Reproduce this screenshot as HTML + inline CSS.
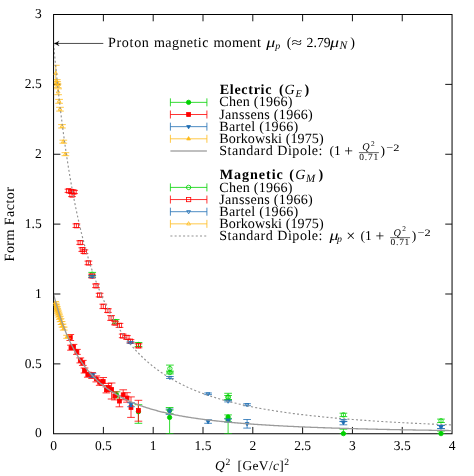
<!DOCTYPE html>
<html><head><meta charset="utf-8"><title>Proton form factors</title>
<style>html,body{margin:0;padding:0;background:#fff;overflow:hidden;}svg{display:block;will-change:transform;transform:translateZ(0);}</style></head>
<body>
<svg width="474" height="476" viewBox="0 0 474 476" font-family="'Liberation Serif', serif" font-size="13.5" fill="#000" text-rendering="geometricPrecision">
<rect width="474" height="476" fill="#fff"/>
<defs><clipPath id="cp"><rect x="53.97" y="14.5" width="398.08000000000004" height="419.25"/></clipPath></defs>
<path d="M103.38 433.75v-6.8M103.38 14.5v6.8M153.19 433.75v-6.8M153.19 14.5v6.8M203.00 433.75v-6.8M203.00 14.5v6.8M252.81 433.75v-6.8M252.81 14.5v6.8M302.62 433.75v-6.8M302.62 14.5v6.8M352.43 433.75v-6.8M352.43 14.5v6.8M402.24 433.75v-6.8M402.24 14.5v6.8M53.57 363.88h6.8M452.05 363.88h-6.8M53.57 294.00h6.8M452.05 294.00h-6.8M53.57 224.12h6.8M452.05 224.12h-6.8M53.57 154.25h6.8M452.05 154.25h-6.8M53.57 84.38h6.8M452.05 84.38h-6.8" stroke="#141414" stroke-width="1" fill="none"/>
<rect x="53.57" y="14.5" width="398.48" height="419.25" fill="none" stroke="#000" stroke-width="1"/>
<g clip-path="url(#cp)"><path d="M116.50 391.80V397.80M112.65 391.80H120.35M112.65 397.80H120.35" stroke="#00d200" stroke-width="0.8" fill="none"/><path d="M138.40 404.70V423.30M134.55 404.70H142.25M134.55 423.30H142.25" stroke="#00d200" stroke-width="0.8" fill="none"/><path d="M169.60 407.50V413.70M165.75 407.50H173.45M165.75 413.70H173.45" stroke="#00d200" stroke-width="0.8" fill="none"/><path d="M169.60 410.00V433.60M165.75 410.00H173.45M165.75 433.60H173.45" stroke="#00d200" stroke-width="0.8" fill="none"/><path d="M228.10 414.90V433.60M224.25 414.90H231.95M224.25 433.60H231.95" stroke="#00d200" stroke-width="0.8" fill="none"/><path d="M228.10 418.40V421.80M224.25 418.40H231.95M224.25 421.80H231.95" stroke="#00d200" stroke-width="0.8" fill="none"/><path d="M343.40 429.20V433.60M339.55 429.20H347.25M339.55 433.60H347.25" stroke="#00d200" stroke-width="0.8" fill="none"/><path d="M441.00 431.10V433.60M437.15 431.10H444.85M437.15 433.60H444.85" stroke="#00d200" stroke-width="0.8" fill="none"/></g>
<g><circle cx="116.50" cy="394.80" r="2.2" fill="#00d200" stroke="#00d200" stroke-width="0.8"/><circle cx="138.40" cy="411.70" r="2.2" fill="#00d200" stroke="#00d200" stroke-width="0.8"/><circle cx="169.60" cy="410.60" r="2.2" fill="#00d200" stroke="#00d200" stroke-width="0.8"/><circle cx="169.60" cy="417.40" r="2.2" fill="#00d200" stroke="#00d200" stroke-width="0.8"/><circle cx="228.10" cy="417.00" r="2.2" fill="#00d200" stroke="#00d200" stroke-width="0.8"/><circle cx="228.10" cy="420.10" r="2.2" fill="#00d200" stroke="#00d200" stroke-width="0.8"/><circle cx="343.40" cy="433.60" r="2.2" fill="#00d200" stroke="#00d200" stroke-width="0.8"/><circle cx="441.00" cy="433.60" r="2.2" fill="#00d200" stroke="#00d200" stroke-width="0.8"/></g>
<g clip-path="url(#cp)"><path d="M70.30 334.50V340.50M66.45 334.50H74.15M66.45 340.50H74.15" stroke="#ff0000" stroke-width="0.8" fill="none"/><path d="M71.00 345.20V350.20M67.15 345.20H74.85M67.15 350.20H74.85" stroke="#ff0000" stroke-width="0.8" fill="none"/><path d="M73.50 344.40V349.40M69.65 344.40H77.35M69.65 349.40H77.35" stroke="#ff0000" stroke-width="0.8" fill="none"/><path d="M76.90 349.40V354.40M73.05 349.40H80.75M73.05 354.40H80.75" stroke="#ff0000" stroke-width="0.8" fill="none"/><path d="M80.30 357.90V362.90M76.45 357.90H84.15M76.45 362.90H84.15" stroke="#ff0000" stroke-width="0.8" fill="none"/><path d="M82.80 360.40V365.40M78.95 360.40H86.65M78.95 365.40H86.65" stroke="#ff0000" stroke-width="0.8" fill="none"/><path d="M84.50 368.00V373.00M80.65 368.00H88.35M80.65 373.00H88.35" stroke="#ff0000" stroke-width="0.8" fill="none"/><path d="M87.80 372.20V377.20M83.95 372.20H91.65M83.95 377.20H91.65" stroke="#ff0000" stroke-width="0.8" fill="none"/><path d="M92.10 372.50V378.50M88.25 372.50H95.95M88.25 378.50H95.95" stroke="#ff0000" stroke-width="0.8" fill="none"/><path d="M96.30 375.90V381.90M92.45 375.90H100.15M92.45 381.90H100.15" stroke="#ff0000" stroke-width="0.8" fill="none"/><path d="M99.70 379.30V385.30M95.85 379.30H103.55M95.85 385.30H103.55" stroke="#ff0000" stroke-width="0.8" fill="none"/><path d="M103.20 377.50V385.50M99.35 377.50H107.05M99.35 385.50H107.05" stroke="#ff0000" stroke-width="0.8" fill="none"/><path d="M106.40 386.90V392.90M102.55 386.90H110.25M102.55 392.90H110.25" stroke="#ff0000" stroke-width="0.8" fill="none"/><path d="M108.40 383.40V391.40M104.55 383.40H112.25M104.55 391.40H112.25" stroke="#ff0000" stroke-width="0.8" fill="none"/><path d="M111.60 383.00V399.00M107.75 383.00H115.45M107.75 399.00H115.45" stroke="#ff0000" stroke-width="0.8" fill="none"/><path d="M114.80 391.90V399.90M110.95 391.90H118.65M110.95 399.90H118.65" stroke="#ff0000" stroke-width="0.8" fill="none"/><path d="M119.40 395.90V406.80M115.55 395.90H123.25M115.55 406.80H123.25" stroke="#ff0000" stroke-width="0.8" fill="none"/><path d="M123.20 389.80V399.80M119.35 389.80H127.05M119.35 399.80H127.05" stroke="#ff0000" stroke-width="0.8" fill="none"/><path d="M127.00 392.70V402.20M123.15 392.70H130.85M123.15 402.20H130.85" stroke="#ff0000" stroke-width="0.8" fill="none"/><path d="M131.00 396.90V417.40M127.15 396.90H134.85M127.15 417.40H134.85" stroke="#ff0000" stroke-width="0.8" fill="none"/><path d="M138.40 400.30V421.20M134.55 400.30H142.25M134.55 421.20H142.25" stroke="#ff0000" stroke-width="0.8" fill="none"/></g>
<g><rect x="68.35" y="335.55" width="3.9" height="3.9" fill="#ff0000" stroke="#ff0000" stroke-width="0.8"/><rect x="69.05" y="345.75" width="3.9" height="3.9" fill="#ff0000" stroke="#ff0000" stroke-width="0.8"/><rect x="71.55" y="344.95" width="3.9" height="3.9" fill="#ff0000" stroke="#ff0000" stroke-width="0.8"/><rect x="74.95" y="349.95" width="3.9" height="3.9" fill="#ff0000" stroke="#ff0000" stroke-width="0.8"/><rect x="78.35" y="358.45" width="3.9" height="3.9" fill="#ff0000" stroke="#ff0000" stroke-width="0.8"/><rect x="80.85" y="360.95" width="3.9" height="3.9" fill="#ff0000" stroke="#ff0000" stroke-width="0.8"/><rect x="82.55" y="368.55" width="3.9" height="3.9" fill="#ff0000" stroke="#ff0000" stroke-width="0.8"/><rect x="85.85" y="372.75" width="3.9" height="3.9" fill="#ff0000" stroke="#ff0000" stroke-width="0.8"/><rect x="90.15" y="373.55" width="3.9" height="3.9" fill="#ff0000" stroke="#ff0000" stroke-width="0.8"/><rect x="94.35" y="376.95" width="3.9" height="3.9" fill="#ff0000" stroke="#ff0000" stroke-width="0.8"/><rect x="97.75" y="380.35" width="3.9" height="3.9" fill="#ff0000" stroke="#ff0000" stroke-width="0.8"/><rect x="101.25" y="379.55" width="3.9" height="3.9" fill="#ff0000" stroke="#ff0000" stroke-width="0.8"/><rect x="104.45" y="387.95" width="3.9" height="3.9" fill="#ff0000" stroke="#ff0000" stroke-width="0.8"/><rect x="106.45" y="385.45" width="3.9" height="3.9" fill="#ff0000" stroke="#ff0000" stroke-width="0.8"/><rect x="109.65" y="387.55" width="3.9" height="3.9" fill="#ff0000" stroke="#ff0000" stroke-width="0.8"/><rect x="112.85" y="393.95" width="3.9" height="3.9" fill="#ff0000" stroke="#ff0000" stroke-width="0.8"/><rect x="117.45" y="399.15" width="3.9" height="3.9" fill="#ff0000" stroke="#ff0000" stroke-width="0.8"/><rect x="121.25" y="392.85" width="3.9" height="3.9" fill="#ff0000" stroke="#ff0000" stroke-width="0.8"/><rect x="125.05" y="396.05" width="3.9" height="3.9" fill="#ff0000" stroke="#ff0000" stroke-width="0.8"/><rect x="129.05" y="405.55" width="3.9" height="3.9" fill="#ff0000" stroke="#ff0000" stroke-width="0.8"/><rect x="136.45" y="408.45" width="3.9" height="3.9" fill="#ff0000" stroke="#ff0000" stroke-width="0.8"/></g>
<g clip-path="url(#cp)"><path d="M92.50 373.30V377.30M88.65 373.30H96.35M88.65 377.30H96.35" stroke="#1f6fb4" stroke-width="0.8" fill="none"/><path d="M131.00 402.70V406.70M127.15 402.70H134.85M127.15 406.70H134.85" stroke="#1f6fb4" stroke-width="0.8" fill="none"/><path d="M169.60 409.00V414.40M165.75 409.00H173.45M165.75 414.40H173.45" stroke="#1f6fb4" stroke-width="0.8" fill="none"/><path d="M208.10 419.70V423.30M204.25 419.70H211.95M204.25 423.30H211.95" stroke="#1f6fb4" stroke-width="0.8" fill="none"/><path d="M228.10 419.00V422.00M224.25 419.00H231.95M224.25 422.00H231.95" stroke="#1f6fb4" stroke-width="0.8" fill="none"/><path d="M247.10 419.50V428.10M243.25 419.50H250.95M243.25 428.10H250.95" stroke="#1f6fb4" stroke-width="0.8" fill="none"/><path d="M343.40 421.60V424.80M339.55 421.60H347.25M339.55 424.80H347.25" stroke="#1f6fb4" stroke-width="0.8" fill="none"/><path d="M441.00 425.40V428.60M437.15 425.40H444.85M437.15 428.60H444.85" stroke="#1f6fb4" stroke-width="0.8" fill="none"/></g>
<g><polygon points="92.50,377.50 90.59,374.20 94.41,374.20" fill="#1f6fb4" stroke="#1f6fb4" stroke-width="0.8"/><polygon points="131.00,406.90 129.09,403.60 132.91,403.60" fill="#1f6fb4" stroke="#1f6fb4" stroke-width="0.8"/><polygon points="169.60,413.90 167.69,410.60 171.51,410.60" fill="#1f6fb4" stroke="#1f6fb4" stroke-width="0.8"/><polygon points="208.10,423.80 206.19,420.50 210.01,420.50" fill="#1f6fb4" stroke="#1f6fb4" stroke-width="0.8"/><polygon points="228.10,422.70 226.19,419.40 230.01,419.40" fill="#1f6fb4" stroke="#1f6fb4" stroke-width="0.8"/><polygon points="247.10,425.90 245.19,422.60 249.01,422.60" fill="#1f6fb4" stroke="#1f6fb4" stroke-width="0.8"/><polygon points="343.40,424.80 341.49,421.50 345.31,421.50" fill="#1f6fb4" stroke="#1f6fb4" stroke-width="0.8"/><polygon points="441.00,429.40 439.09,426.10 442.91,426.10" fill="#1f6fb4" stroke="#1f6fb4" stroke-width="0.8"/></g>
<g clip-path="url(#cp)"><path d="M55.26 301.50V304.50M51.41 301.50H59.11M51.41 304.50H59.11" stroke="#ffbb1a" stroke-width="0.8" fill="none"/><path d="M55.72 303.10V306.10M51.87 303.10H59.57M51.87 306.10H59.57" stroke="#ffbb1a" stroke-width="0.8" fill="none"/><path d="M56.20 304.80V307.80M52.35 304.80H60.05M52.35 307.80H60.05" stroke="#ffbb1a" stroke-width="0.8" fill="none"/><path d="M56.70 306.50V309.50M52.85 306.50H60.55M52.85 309.50H60.55" stroke="#ffbb1a" stroke-width="0.8" fill="none"/><path d="M57.24 308.30V311.30M53.39 308.30H61.09M53.39 311.30H61.09" stroke="#ffbb1a" stroke-width="0.8" fill="none"/><path d="M57.83 310.20V313.20M53.98 310.20H61.68M53.98 313.20H61.68" stroke="#ffbb1a" stroke-width="0.8" fill="none"/><path d="M58.42 312.10V315.10M54.57 312.10H62.27M54.57 315.10H62.27" stroke="#ffbb1a" stroke-width="0.8" fill="none"/><path d="M59.06 314.10V317.10M55.21 314.10H62.91M55.21 317.10H62.91" stroke="#ffbb1a" stroke-width="0.8" fill="none"/><path d="M59.79 316.30V319.30M55.94 316.30H63.64M55.94 319.30H63.64" stroke="#ffbb1a" stroke-width="0.8" fill="none"/><path d="M60.61 318.70V321.70M56.76 318.70H64.46M56.76 321.70H64.46" stroke="#ffbb1a" stroke-width="0.8" fill="none"/><path d="M61.59 321.50V324.50M57.74 321.50H65.44M57.74 324.50H65.44" stroke="#ffbb1a" stroke-width="0.8" fill="none"/><path d="M62.54 324.10V327.10M58.69 324.10H66.39M58.69 327.10H66.39" stroke="#ffbb1a" stroke-width="0.8" fill="none"/><path d="M63.68 327.10V330.10M59.83 327.10H67.53M59.83 330.10H67.53" stroke="#ffbb1a" stroke-width="0.8" fill="none"/><path d="M67.06 335.30V338.30M63.21 335.30H70.91M63.21 338.30H70.91" stroke="#ffbb1a" stroke-width="0.8" fill="none"/></g>
<g><polygon points="55.26,300.80 53.36,304.10 57.17,304.10" fill="#ffbb1a" stroke="#ffbb1a" stroke-width="0.8"/><polygon points="55.72,302.40 53.81,305.70 57.62,305.70" fill="#ffbb1a" stroke="#ffbb1a" stroke-width="0.8"/><polygon points="56.20,304.10 54.30,307.40 58.11,307.40" fill="#ffbb1a" stroke="#ffbb1a" stroke-width="0.8"/><polygon points="56.70,305.80 54.80,309.10 58.61,309.10" fill="#ffbb1a" stroke="#ffbb1a" stroke-width="0.8"/><polygon points="57.24,307.60 55.34,310.90 59.15,310.90" fill="#ffbb1a" stroke="#ffbb1a" stroke-width="0.8"/><polygon points="57.83,309.50 55.92,312.80 59.73,312.80" fill="#ffbb1a" stroke="#ffbb1a" stroke-width="0.8"/><polygon points="58.42,311.40 56.52,314.70 60.33,314.70" fill="#ffbb1a" stroke="#ffbb1a" stroke-width="0.8"/><polygon points="59.06,313.40 57.16,316.70 60.97,316.70" fill="#ffbb1a" stroke="#ffbb1a" stroke-width="0.8"/><polygon points="59.79,315.60 57.89,318.90 61.70,318.90" fill="#ffbb1a" stroke="#ffbb1a" stroke-width="0.8"/><polygon points="60.61,318.00 58.70,321.30 62.51,321.30" fill="#ffbb1a" stroke="#ffbb1a" stroke-width="0.8"/><polygon points="61.59,320.80 59.69,324.10 63.50,324.10" fill="#ffbb1a" stroke="#ffbb1a" stroke-width="0.8"/><polygon points="62.54,323.40 60.64,326.70 64.45,326.70" fill="#ffbb1a" stroke="#ffbb1a" stroke-width="0.8"/><polygon points="63.68,326.40 61.78,329.70 65.59,329.70" fill="#ffbb1a" stroke="#ffbb1a" stroke-width="0.8"/><polygon points="67.06,334.60 65.15,337.90 68.96,337.90" fill="#ffbb1a" stroke="#ffbb1a" stroke-width="0.8"/></g>
<g clip-path="url(#cp)"><path d="M92.20 272.40V276.00M88.35 272.40H96.05M88.35 276.00H96.05" stroke="#00d200" stroke-width="0.8" fill="none"/><path d="M115.70 319.50V323.70M111.85 319.50H119.55M111.85 323.70H119.55" stroke="#00d200" stroke-width="0.8" fill="none"/><path d="M138.50 342.50V346.50M134.65 342.50H142.35M134.65 346.50H142.35" stroke="#00d200" stroke-width="0.8" fill="none"/><path d="M169.90 365.10V372.10M166.05 365.10H173.75M166.05 372.10H173.75" stroke="#00d200" stroke-width="0.8" fill="none"/><path d="M169.90 371.10V373.90M166.05 371.10H173.75M166.05 373.90H173.75" stroke="#00d200" stroke-width="0.8" fill="none"/><path d="M228.10 393.30V400.00M224.25 393.30H231.95M224.25 400.00H231.95" stroke="#00d200" stroke-width="0.8" fill="none"/><path d="M228.10 395.50V399.50M224.25 395.50H231.95M224.25 399.50H231.95" stroke="#00d200" stroke-width="0.8" fill="none"/><path d="M343.40 413.20V416.60M339.55 413.20H347.25M339.55 416.60H347.25" stroke="#00d200" stroke-width="0.8" fill="none"/><path d="M441.00 419.10V422.50M437.15 419.10H444.85M437.15 422.50H444.85" stroke="#00d200" stroke-width="0.8" fill="none"/></g>
<g><circle cx="92.20" cy="274.20" r="2.2" fill="none" stroke="#00d200" stroke-width="0.8"/><circle cx="115.70" cy="321.60" r="2.2" fill="none" stroke="#00d200" stroke-width="0.8"/><circle cx="138.50" cy="344.50" r="2.2" fill="none" stroke="#00d200" stroke-width="0.8"/><circle cx="169.90" cy="368.60" r="2.2" fill="none" stroke="#00d200" stroke-width="0.8"/><circle cx="169.90" cy="372.50" r="2.2" fill="none" stroke="#00d200" stroke-width="0.8"/><circle cx="228.10" cy="396.90" r="2.2" fill="none" stroke="#00d200" stroke-width="0.8"/><circle cx="228.10" cy="397.50" r="2.2" fill="none" stroke="#00d200" stroke-width="0.8"/><circle cx="343.40" cy="414.90" r="2.2" fill="none" stroke="#00d200" stroke-width="0.8"/><circle cx="441.00" cy="420.80" r="2.2" fill="none" stroke="#00d200" stroke-width="0.8"/></g>
<g clip-path="url(#cp)"><path d="M68.50 189.20V192.40M64.65 189.20H72.35M64.65 192.40H72.35" stroke="#ff0000" stroke-width="0.8" fill="none"/><path d="M71.50 189.90V193.10M67.65 189.90H75.35M67.65 193.10H75.35" stroke="#ff0000" stroke-width="0.8" fill="none"/><path d="M74.00 190.40V193.60M70.15 190.40H77.85M70.15 193.60H77.85" stroke="#ff0000" stroke-width="0.8" fill="none"/><path d="M72.00 193.40V196.60M68.15 193.40H75.85M68.15 196.60H75.85" stroke="#ff0000" stroke-width="0.8" fill="none"/><path d="M76.40 223.90V227.50M72.55 223.90H80.25M72.55 227.50H80.25" stroke="#ff0000" stroke-width="0.8" fill="none"/><path d="M80.20 240.80V244.40M76.35 240.80H84.05M76.35 244.40H84.05" stroke="#ff0000" stroke-width="0.8" fill="none"/><path d="M82.30 247.80V251.40M78.45 247.80H86.15M78.45 251.40H86.15" stroke="#ff0000" stroke-width="0.8" fill="none"/><path d="M84.40 249.90V253.50M80.55 249.90H88.25M80.55 253.50H88.25" stroke="#ff0000" stroke-width="0.8" fill="none"/><path d="M88.40 261.10V264.70M84.55 261.10H92.25M84.55 264.70H92.25" stroke="#ff0000" stroke-width="0.8" fill="none"/><path d="M92.00 274.20V277.80M88.15 274.20H95.85M88.15 277.80H95.85" stroke="#ff0000" stroke-width="0.8" fill="none"/><path d="M96.00 284.00V287.60M92.15 284.00H99.85M92.15 287.60H99.85" stroke="#ff0000" stroke-width="0.8" fill="none"/><path d="M99.60 293.30V296.90M95.75 293.30H103.45M95.75 296.90H103.45" stroke="#ff0000" stroke-width="0.8" fill="none"/><path d="M103.30 304.20V308.60M99.45 304.20H107.15M99.45 308.60H107.15" stroke="#ff0000" stroke-width="0.8" fill="none"/><path d="M107.90 308.80V312.40M104.05 308.80H111.75M104.05 312.40H111.75" stroke="#ff0000" stroke-width="0.8" fill="none"/><path d="M111.10 315.60V320.40M107.25 315.60H114.95M107.25 320.40H114.95" stroke="#ff0000" stroke-width="0.8" fill="none"/><path d="M115.00 321.20V324.80M111.15 321.20H118.85M111.15 324.80H118.85" stroke="#ff0000" stroke-width="0.8" fill="none"/><path d="M119.50 323.40V327.40M115.65 323.40H123.35M115.65 327.40H123.35" stroke="#ff0000" stroke-width="0.8" fill="none"/><path d="M122.70 334.10V337.70M118.85 334.10H126.55M118.85 337.70H126.55" stroke="#ff0000" stroke-width="0.8" fill="none"/><path d="M126.90 335.60V339.20M123.05 335.60H130.75M123.05 339.20H130.75" stroke="#ff0000" stroke-width="0.8" fill="none"/><path d="M130.50 339.60V342.80M126.65 339.60H134.35M126.65 342.80H134.35" stroke="#ff0000" stroke-width="0.8" fill="none"/><path d="M138.50 343.80V347.80M134.65 343.80H142.35M134.65 347.80H142.35" stroke="#ff0000" stroke-width="0.8" fill="none"/></g>
<g><rect x="66.35" y="188.65" width="4.3" height="4.3" fill="none" stroke="#ff0000" stroke-width="0.8"/><rect x="69.35" y="189.35" width="4.3" height="4.3" fill="none" stroke="#ff0000" stroke-width="0.8"/><rect x="71.85" y="189.85" width="4.3" height="4.3" fill="none" stroke="#ff0000" stroke-width="0.8"/><rect x="69.85" y="192.85" width="4.3" height="4.3" fill="none" stroke="#ff0000" stroke-width="0.8"/><rect x="74.25" y="223.55" width="4.3" height="4.3" fill="none" stroke="#ff0000" stroke-width="0.8"/><rect x="78.05" y="240.45" width="4.3" height="4.3" fill="none" stroke="#ff0000" stroke-width="0.8"/><rect x="80.15" y="247.45" width="4.3" height="4.3" fill="none" stroke="#ff0000" stroke-width="0.8"/><rect x="82.25" y="249.55" width="4.3" height="4.3" fill="none" stroke="#ff0000" stroke-width="0.8"/><rect x="86.25" y="260.75" width="4.3" height="4.3" fill="none" stroke="#ff0000" stroke-width="0.8"/><rect x="89.85" y="273.85" width="4.3" height="4.3" fill="none" stroke="#ff0000" stroke-width="0.8"/><rect x="93.85" y="283.65" width="4.3" height="4.3" fill="none" stroke="#ff0000" stroke-width="0.8"/><rect x="97.45" y="292.95" width="4.3" height="4.3" fill="none" stroke="#ff0000" stroke-width="0.8"/><rect x="101.15" y="304.25" width="4.3" height="4.3" fill="none" stroke="#ff0000" stroke-width="0.8"/><rect x="105.75" y="308.45" width="4.3" height="4.3" fill="none" stroke="#ff0000" stroke-width="0.8"/><rect x="108.95" y="315.85" width="4.3" height="4.3" fill="none" stroke="#ff0000" stroke-width="0.8"/><rect x="112.85" y="320.85" width="4.3" height="4.3" fill="none" stroke="#ff0000" stroke-width="0.8"/><rect x="117.35" y="323.25" width="4.3" height="4.3" fill="none" stroke="#ff0000" stroke-width="0.8"/><rect x="120.55" y="333.75" width="4.3" height="4.3" fill="none" stroke="#ff0000" stroke-width="0.8"/><rect x="124.75" y="335.25" width="4.3" height="4.3" fill="none" stroke="#ff0000" stroke-width="0.8"/><rect x="128.35" y="339.05" width="4.3" height="4.3" fill="none" stroke="#ff0000" stroke-width="0.8"/><rect x="136.35" y="343.65" width="4.3" height="4.3" fill="none" stroke="#ff0000" stroke-width="0.8"/></g>
<g clip-path="url(#cp)"><path d="M92.20 275.50V277.50M88.35 275.50H96.05M88.35 277.50H96.05" stroke="#1f6fb4" stroke-width="0.8" fill="none"/><path d="M130.50 341.70V343.30M126.65 341.70H134.35M126.65 343.30H134.35" stroke="#1f6fb4" stroke-width="0.8" fill="none"/><path d="M169.90 376.50V378.50M166.05 376.50H173.75M166.05 378.50H173.75" stroke="#1f6fb4" stroke-width="0.8" fill="none"/><path d="M208.10 393.00V394.60M204.25 393.00H211.95M204.25 394.60H211.95" stroke="#1f6fb4" stroke-width="0.8" fill="none"/><path d="M228.10 400.30V401.90M224.25 400.30H231.95M224.25 401.90H231.95" stroke="#1f6fb4" stroke-width="0.8" fill="none"/><path d="M247.10 403.70V405.70M243.25 403.70H250.95M243.25 405.70H250.95" stroke="#1f6fb4" stroke-width="0.8" fill="none"/><path d="M343.40 419.70V421.50M339.55 419.70H347.25M339.55 421.50H347.25" stroke="#1f6fb4" stroke-width="0.8" fill="none"/><path d="M441.00 425.40V428.60M437.15 425.40H444.85M437.15 428.60H444.85" stroke="#1f6fb4" stroke-width="0.8" fill="none"/></g>
<g><polygon points="92.20,278.70 90.29,275.40 94.11,275.40" fill="none" stroke="#1f6fb4" stroke-width="0.8"/><polygon points="130.50,344.70 128.59,341.40 132.41,341.40" fill="none" stroke="#1f6fb4" stroke-width="0.8"/><polygon points="169.90,379.70 167.99,376.40 171.81,376.40" fill="none" stroke="#1f6fb4" stroke-width="0.8"/><polygon points="208.10,396.00 206.19,392.70 210.01,392.70" fill="none" stroke="#1f6fb4" stroke-width="0.8"/><polygon points="228.10,403.30 226.19,400.00 230.01,400.00" fill="none" stroke="#1f6fb4" stroke-width="0.8"/><polygon points="247.10,406.90 245.19,403.60 249.01,403.60" fill="none" stroke="#1f6fb4" stroke-width="0.8"/><polygon points="343.40,422.80 341.49,419.50 345.31,419.50" fill="none" stroke="#1f6fb4" stroke-width="0.8"/><polygon points="441.00,429.00 439.09,425.70 442.91,425.70" fill="none" stroke="#1f6fb4" stroke-width="0.8"/></g>
<g clip-path="url(#cp)"><path d="M55.80 65.30V81.30M51.95 65.30H59.65M51.95 81.30H59.65" stroke="#ffbb1a" stroke-width="0.8" fill="none"/><path d="M56.80 79.60V83.40M52.95 79.60H60.65M52.95 83.40H60.65" stroke="#ffbb1a" stroke-width="0.8" fill="none"/><path d="M57.20 81.70V85.30M53.35 81.70H61.05M53.35 85.30H61.05" stroke="#ffbb1a" stroke-width="0.8" fill="none"/><path d="M57.60 84.00V87.60M53.75 84.00H61.45M53.75 87.60H61.45" stroke="#ffbb1a" stroke-width="0.8" fill="none"/><path d="M58.10 88.80V94.70M54.25 88.80H61.95M54.25 94.70H61.95" stroke="#ffbb1a" stroke-width="0.8" fill="none"/><path d="M59.10 99.40V103.30M55.25 99.40H62.95M55.25 103.30H62.95" stroke="#ffbb1a" stroke-width="0.8" fill="none"/><path d="M60.00 107.30V111.10M56.15 107.30H63.85M56.15 111.10H63.85" stroke="#ffbb1a" stroke-width="0.8" fill="none"/><path d="M62.00 124.60V128.00M58.15 124.60H65.85M58.15 128.00H65.85" stroke="#ffbb1a" stroke-width="0.8" fill="none"/><path d="M63.30 140.20V143.20M59.45 140.20H67.15M59.45 143.20H67.15" stroke="#ffbb1a" stroke-width="0.8" fill="none"/><path d="M65.40 152.70V155.70M61.55 152.70H69.25M61.55 155.70H69.25" stroke="#ffbb1a" stroke-width="0.8" fill="none"/></g>
<g><polygon points="55.80,71.10 53.89,74.40 57.71,74.40" fill="none" stroke="#ffbb1a" stroke-width="0.8"/><polygon points="56.80,79.30 54.89,82.60 58.71,82.60" fill="none" stroke="#ffbb1a" stroke-width="0.8"/><polygon points="57.20,81.30 55.29,84.60 59.11,84.60" fill="none" stroke="#ffbb1a" stroke-width="0.8"/><polygon points="57.60,83.60 55.69,86.90 59.51,86.90" fill="none" stroke="#ffbb1a" stroke-width="0.8"/><polygon points="58.10,89.60 56.19,92.90 60.01,92.90" fill="none" stroke="#ffbb1a" stroke-width="0.8"/><polygon points="59.10,99.10 57.19,102.40 61.01,102.40" fill="none" stroke="#ffbb1a" stroke-width="0.8"/><polygon points="60.00,107.00 58.09,110.30 61.91,110.30" fill="none" stroke="#ffbb1a" stroke-width="0.8"/><polygon points="62.00,124.10 60.09,127.40 63.91,127.40" fill="none" stroke="#ffbb1a" stroke-width="0.8"/><polygon points="63.30,139.50 61.39,142.80 65.21,142.80" fill="none" stroke="#ffbb1a" stroke-width="0.8"/><polygon points="65.40,152.00 63.49,155.30 67.31,155.30" fill="none" stroke="#ffbb1a" stroke-width="0.8"/></g>
<g clip-path="url(#cp)">
<path d="M53.57 294.00L54.57 297.85L55.56 301.55L56.56 305.10L57.55 308.51L58.55 311.78L59.55 314.93L60.54 317.96L61.54 320.87L62.54 323.68L63.53 326.38L64.53 328.98L65.52 331.49L66.52 333.91L67.52 336.24L68.51 338.50L69.51 340.68L70.51 342.78L71.50 344.81L72.50 346.78L73.49 348.68L74.49 350.52L75.49 352.30L76.48 354.02L77.48 355.69L78.47 357.31L79.47 358.88L80.47 360.40L81.46 361.87L82.46 363.30L83.46 364.69L84.45 366.04L85.45 367.35L86.44 368.62L87.44 369.85L88.44 371.05L89.43 372.22L90.43 373.35L91.43 374.46L92.42 375.53L93.42 376.57L94.41 377.59L95.41 378.58L96.41 379.54L97.40 380.48L98.40 381.40L99.40 382.29L100.39 383.16L101.39 384.00L102.38 384.83L103.38 385.63L104.38 386.42L105.37 387.19L106.37 387.93L107.36 388.66L108.36 389.38L109.36 390.07L110.35 390.75L111.35 391.42L112.35 392.06L113.34 392.70L114.34 393.32L115.33 393.92L116.33 394.52L117.33 395.10L118.32 395.66L119.32 396.22L120.32 396.76L121.31 397.29L122.31 397.81L123.30 398.32L124.30 398.81L125.30 399.30L126.29 399.78L127.29 400.24L128.28 400.70L129.28 401.15L130.28 401.59L131.27 402.02L132.27 402.44L133.27 402.85L134.26 403.26L135.26 403.66L136.25 404.05L137.25 404.43L138.25 404.80L139.24 405.17L140.24 405.53L141.24 405.88L142.23 406.23L143.23 406.57L144.22 406.91L145.22 407.23L146.22 407.56L147.21 407.87L148.21 408.18L149.21 408.49L150.20 408.79L151.20 409.08L152.19 409.37L153.19 409.66L154.19 409.94L155.18 410.21L156.18 410.48L157.17 410.75L158.17 411.01L159.17 411.26L160.16 411.52L161.16 411.76L162.16 412.01L163.15 412.25L164.15 412.48L165.14 412.71L166.14 412.94L167.14 413.17L168.13 413.39L169.13 413.60L170.13 413.82L171.12 414.03L172.12 414.24L173.11 414.44L174.11 414.64L175.11 414.84L176.10 415.03L177.10 415.22L178.09 415.41L179.09 415.60L180.09 415.78L181.08 415.96L182.08 416.14L183.08 416.31L184.07 416.49L185.07 416.65L186.06 416.82L187.06 416.99L188.06 417.15L189.05 417.31L190.05 417.47L191.05 417.62L192.04 417.78L193.04 417.93L194.03 418.08L195.03 418.22L196.03 418.37L197.02 418.51L198.02 418.65L199.02 418.79L200.01 418.93L201.01 419.06L202.00 419.19L203.00 419.33L204.00 419.46L204.99 419.58L205.99 419.71L206.98 419.83L207.98 419.96L208.98 420.08L209.97 420.20L210.97 420.32L211.97 420.43L212.96 420.55L213.96 420.66L214.95 420.77L215.95 420.88L216.95 420.99L217.94 421.10L218.94 421.21L219.94 421.31L220.93 421.42L221.93 421.52L222.92 421.62L223.92 421.72L224.92 421.82L225.91 421.92L226.91 422.01L227.91 422.11L228.90 422.20L229.90 422.30L230.89 422.39L231.89 422.48L232.89 422.57L233.88 422.66L234.88 422.74L235.87 422.83L236.87 422.92L237.87 423.00L238.86 423.08L239.86 423.17L240.86 423.25L241.85 423.33L242.85 423.41L243.84 423.49L244.84 423.57L245.84 423.64L246.83 423.72L247.83 423.79L248.83 423.87L249.82 423.94L250.82 424.01L251.81 424.09L252.81 424.16L253.81 424.23L254.80 424.30L255.80 424.37L256.79 424.43L257.79 424.50L258.79 424.57L259.78 424.63L260.78 424.70L261.78 424.76L262.77 424.83L263.77 424.89L264.76 424.95L265.76 425.02L266.76 425.08L267.75 425.14L268.75 425.20L269.75 425.26L270.74 425.32L271.74 425.37L272.73 425.43L273.73 425.49L274.73 425.54L275.72 425.60L276.72 425.65L277.72 425.71L278.71 425.76L279.71 425.82L280.70 425.87L281.70 425.92L282.70 425.97L283.69 426.03L284.69 426.08L285.68 426.13L286.68 426.18L287.68 426.23L288.67 426.28L289.67 426.32L290.67 426.37L291.66 426.42L292.66 426.47L293.65 426.51L294.65 426.56L295.65 426.60L296.64 426.65L297.64 426.70L298.64 426.74L299.63 426.78L300.63 426.83L301.62 426.87L302.62 426.91L303.62 426.96L304.61 427.00L305.61 427.04L306.60 427.08L307.60 427.12L308.60 427.16L309.59 427.20L310.59 427.24L311.59 427.28L312.58 427.32L313.58 427.36L314.57 427.40L315.57 427.43L316.57 427.47L317.56 427.51L318.56 427.55L319.56 427.58L320.55 427.62L321.55 427.66L322.54 427.69L323.54 427.73L324.54 427.76L325.53 427.80L326.53 427.83L327.53 427.87L328.52 427.90L329.52 427.93L330.51 427.97L331.51 428.00L332.51 428.03L333.50 428.06L334.50 428.10L335.49 428.13L336.49 428.16L337.49 428.19L338.48 428.22L339.48 428.25L340.48 428.28L341.47 428.31L342.47 428.34L343.46 428.37L344.46 428.40L345.46 428.43L346.45 428.46L347.45 428.49L348.45 428.52L349.44 428.55L350.44 428.58L351.43 428.60L352.43 428.63L353.43 428.66L354.42 428.69L355.42 428.71L356.41 428.74L357.41 428.77L358.41 428.79L359.40 428.82L360.40 428.85L361.40 428.87L362.39 428.90L363.39 428.92L364.38 428.95L365.38 428.97L366.38 429.00L367.37 429.02L368.37 429.05L369.37 429.07L370.36 429.09L371.36 429.12L372.35 429.14L373.35 429.17L374.35 429.19L375.34 429.21L376.34 429.23L377.33 429.26L378.33 429.28L379.33 429.30L380.32 429.32L381.32 429.35L382.32 429.37L383.31 429.39L384.31 429.41L385.30 429.43L386.30 429.46L387.30 429.48L388.29 429.50L389.29 429.52L390.29 429.54L391.28 429.56L392.28 429.58L393.27 429.60L394.27 429.62L395.27 429.64L396.26 429.66L397.26 429.68L398.26 429.70L399.25 429.72L400.25 429.74L401.24 429.76L402.24 429.78L403.24 429.79L404.23 429.81L405.23 429.83L406.22 429.85L407.22 429.87L408.22 429.89L409.21 429.90L410.21 429.92L411.21 429.94L412.20 429.96L413.20 429.98L414.19 429.99L415.19 430.01L416.19 430.03L417.18 430.04L418.18 430.06L419.18 430.08L420.17 430.09L421.17 430.11L422.16 430.13L423.16 430.14L424.16 430.16L425.15 430.18L426.15 430.19L427.15 430.21L428.14 430.22L429.14 430.24L430.13 430.26L431.13 430.27L432.13 430.29L433.12 430.30L434.12 430.32L435.11 430.33L436.11 430.35L437.11 430.36L438.10 430.38L439.10 430.39L440.10 430.41L441.09 430.42L442.09 430.44L443.08 430.45L444.08 430.46L445.08 430.48L446.07 430.49L447.07 430.51L448.07 430.52L449.06 430.53L450.06 430.55L451.05 430.56L452.05 430.57" stroke="#9a9a9a" stroke-width="1.3" fill="none"/>
<path d="M53.57 43.85L54.57 54.60L55.56 64.92L56.56 74.82L57.55 84.33L58.55 93.46L59.55 102.24L60.54 110.69L61.54 118.82L62.54 126.64L63.53 134.18L64.53 141.44L65.52 148.44L66.52 155.19L67.52 161.71L68.51 168.00L69.51 174.07L70.51 179.94L71.50 185.61L72.50 191.10L73.49 196.40L74.49 201.53L75.49 206.50L76.48 211.31L77.48 215.97L78.47 220.48L79.47 224.85L80.47 229.10L81.46 233.21L82.46 237.20L83.46 241.07L84.45 244.83L85.45 248.48L86.44 252.03L87.44 255.47L88.44 258.82L89.43 262.08L90.43 265.24L91.43 268.32L92.42 271.31L93.42 274.23L94.41 277.06L95.41 279.82L96.41 282.51L97.40 285.13L98.40 287.68L99.40 290.17L100.39 292.59L101.39 294.95L102.38 297.26L103.38 299.50L104.38 301.70L105.37 303.83L106.37 305.92L107.36 307.96L108.36 309.95L109.36 311.89L110.35 313.79L111.35 315.64L112.35 317.45L113.34 319.22L114.34 320.95L115.33 322.64L116.33 324.29L117.33 325.90L118.32 327.48L119.32 329.03L120.32 330.54L121.31 332.02L122.31 333.47L123.30 334.89L124.30 336.27L125.30 337.63L126.29 338.96L127.29 340.27L128.28 341.54L129.28 342.79L130.28 344.02L131.27 345.22L132.27 346.39L133.27 347.55L134.26 348.68L135.26 349.79L136.25 350.87L137.25 351.94L138.25 352.98L139.24 354.01L140.24 355.02L141.24 356.00L142.23 356.97L143.23 357.92L144.22 358.86L145.22 359.77L146.22 360.67L147.21 361.56L148.21 362.42L149.21 363.27L150.20 364.11L151.20 364.93L152.19 365.74L153.19 366.53L154.19 367.31L155.18 368.08L156.18 368.83L157.17 369.57L158.17 370.30L159.17 371.01L160.16 371.72L161.16 372.41L162.16 373.09L163.15 373.75L164.15 374.41L165.14 375.06L166.14 375.70L167.14 376.32L168.13 376.94L169.13 377.54L170.13 378.14L171.12 378.73L172.12 379.30L173.11 379.87L174.11 380.43L175.11 380.98L176.10 381.53L177.10 382.06L178.09 382.59L179.09 383.10L180.09 383.61L181.08 384.12L182.08 384.61L183.08 385.10L184.07 385.58L185.07 386.05L186.06 386.52L187.06 386.98L188.06 387.43L189.05 387.88L190.05 388.32L191.05 388.75L192.04 389.18L193.04 389.60L194.03 390.02L195.03 390.43L196.03 390.83L197.02 391.23L198.02 391.62L199.02 392.01L200.01 392.39L201.01 392.77L202.00 393.14L203.00 393.51L204.00 393.87L204.99 394.23L205.99 394.58L206.98 394.93L207.98 395.27L208.98 395.61L209.97 395.94L210.97 396.27L211.97 396.60L212.96 396.92L213.96 397.23L214.95 397.55L215.95 397.85L216.95 398.16L217.94 398.46L218.94 398.76L219.94 399.05L220.93 399.34L221.93 399.63L222.92 399.91L223.92 400.19L224.92 400.46L225.91 400.74L226.91 401.01L227.91 401.27L228.90 401.53L229.90 401.79L230.89 402.05L231.89 402.30L232.89 402.55L233.88 402.80L234.88 403.04L235.87 403.28L236.87 403.52L237.87 403.76L238.86 403.99L239.86 404.22L240.86 404.45L241.85 404.67L242.85 404.90L243.84 405.12L244.84 405.33L245.84 405.55L246.83 405.76L247.83 405.97L248.83 406.18L249.82 406.38L250.82 406.59L251.81 406.79L252.81 406.99L253.81 407.18L254.80 407.38L255.80 407.57L256.79 407.76L257.79 407.95L258.79 408.13L259.78 408.32L260.78 408.50L261.78 408.68L262.77 408.86L263.77 409.03L264.76 409.21L265.76 409.38L266.76 409.55L267.75 409.72L268.75 409.89L269.75 410.05L270.74 410.22L271.74 410.38L272.73 410.54L273.73 410.70L274.73 410.86L275.72 411.01L276.72 411.16L277.72 411.32L278.71 411.47L279.71 411.62L280.70 411.76L281.70 411.91L282.70 412.06L283.69 412.20L284.69 412.34L285.68 412.48L286.68 412.62L287.68 412.76L288.67 412.90L289.67 413.03L290.67 413.16L291.66 413.30L292.66 413.43L293.65 413.56L294.65 413.69L295.65 413.82L296.64 413.94L297.64 414.07L298.64 414.19L299.63 414.31L300.63 414.44L301.62 414.56L302.62 414.68L303.62 414.79L304.61 414.91L305.61 415.03L306.60 415.14L307.60 415.26L308.60 415.37L309.59 415.48L310.59 415.59L311.59 415.70L312.58 415.81L313.58 415.92L314.57 416.03L315.57 416.13L316.57 416.24L317.56 416.34L318.56 416.44L319.56 416.55L320.55 416.65L321.55 416.75L322.54 416.85L323.54 416.95L324.54 417.04L325.53 417.14L326.53 417.24L327.53 417.33L328.52 417.43L329.52 417.52L330.51 417.61L331.51 417.71L332.51 417.80L333.50 417.89L334.50 417.98L335.49 418.07L336.49 418.15L337.49 418.24L338.48 418.33L339.48 418.41L340.48 418.50L341.47 418.58L342.47 418.67L343.46 418.75L344.46 418.83L345.46 418.92L346.45 419.00L347.45 419.08L348.45 419.16L349.44 419.24L350.44 419.31L351.43 419.39L352.43 419.47L353.43 419.55L354.42 419.62L355.42 419.70L356.41 419.77L357.41 419.85L358.41 419.92L359.40 419.99L360.40 420.07L361.40 420.14L362.39 420.21L363.39 420.28L364.38 420.35L365.38 420.42L366.38 420.49L367.37 420.56L368.37 420.63L369.37 420.69L370.36 420.76L371.36 420.83L372.35 420.89L373.35 420.96L374.35 421.02L375.34 421.09L376.34 421.15L377.33 421.22L378.33 421.28L379.33 421.34L380.32 421.40L381.32 421.47L382.32 421.53L383.31 421.59L384.31 421.65L385.30 421.71L386.30 421.77L387.30 421.83L388.29 421.88L389.29 421.94L390.29 422.00L391.28 422.06L392.28 422.11L393.27 422.17L394.27 422.23L395.27 422.28L396.26 422.34L397.26 422.39L398.26 422.45L399.25 422.50L400.25 422.55L401.24 422.61L402.24 422.66L403.24 422.71L404.23 422.77L405.23 422.82L406.22 422.87L407.22 422.92L408.22 422.97L409.21 423.02L410.21 423.07L411.21 423.12L412.20 423.17L413.20 423.22L414.19 423.27L415.19 423.31L416.19 423.36L417.18 423.41L418.18 423.46L419.18 423.50L420.17 423.55L421.17 423.60L422.16 423.64L423.16 423.69L424.16 423.73L425.15 423.78L426.15 423.82L427.15 423.87L428.14 423.91L429.14 423.96L430.13 424.00L431.13 424.04L432.13 424.09L433.12 424.13L434.12 424.17L435.11 424.21L436.11 424.26L437.11 424.30L438.10 424.34L439.10 424.38L440.10 424.42L441.09 424.46L442.09 424.50L443.08 424.54L444.08 424.58L445.08 424.62L446.07 424.66L447.07 424.70L448.07 424.74L449.06 424.78L450.06 424.81L451.05 424.85L452.05 424.89" stroke="#929292" stroke-width="1.15" stroke-dasharray="2.0 2.23" fill="none"/>
</g>
<text x="53.57" y="449.5" text-anchor="middle">0</text>
<text x="103.38" y="449.5" text-anchor="middle">0.5</text>
<text x="153.19" y="449.5" text-anchor="middle">1</text>
<text x="203.00" y="449.5" text-anchor="middle">1.5</text>
<text x="252.81" y="449.5" text-anchor="middle">2</text>
<text x="302.62" y="449.5" text-anchor="middle">2.5</text>
<text x="352.43" y="449.5" text-anchor="middle">3</text>
<text x="402.24" y="449.5" text-anchor="middle">3.5</text>
<text x="452.05" y="449.5" text-anchor="middle">4</text>
<text x="41.7" y="437.45" text-anchor="end">0</text>
<text x="41.7" y="367.57" text-anchor="end">0.5</text>
<text x="41.7" y="297.70" text-anchor="end">1</text>
<text x="41.7" y="227.82" text-anchor="end">1.5</text>
<text x="41.7" y="157.95" text-anchor="end">2</text>
<text x="41.7" y="88.08" text-anchor="end">2.5</text>
<text x="41.7" y="18.20" text-anchor="end">3</text>
<text transform="translate(13.6 224.2) rotate(-90)" font-size="14.1" text-anchor="middle" textLength="74.4" lengthAdjust="spacing">Form Factor</text>
<text x="215.0" y="470.3" font-style="italic">Q</text>
<text x="225.4" y="465.40000000000003" font-size="9.6">2</text>
<text x="237.6" y="470.3" textLength="46.2" lengthAdjust="spacing">[GeV/<tspan font-style="italic">c</tspan>]</text>
<text x="284.3" y="465.40000000000003" font-size="9.6">2</text>
<path d="M103.3 43.45H56.5" stroke="#111" stroke-width="0.75" fill="none"/>
<path d="M53.9 43.45C55.6 43.00 57.6 42.15 59.1 40.95C58.3 42.25 57.8 42.95 57.6 43.45C57.8 43.95 58.3 44.65 59.1 45.95C57.6 44.75 55.6 43.90 53.9 43.45Z" fill="#000" stroke="#000" stroke-width="0.3" stroke-linejoin="round"/>
<text x="107.9" y="47.0" font-size="14.1" textLength="41.0" lengthAdjust="spacing">Proton</text>
<text x="154.0" y="47.0" font-size="14.1" textLength="54.4" lengthAdjust="spacing">magnetic</text>
<text x="213.4" y="47.0" font-size="14.1" textLength="47.4" lengthAdjust="spacing">moment</text>
<text x="266.2" y="47.0" font-style="italic" font-size="14" textLength="9.0" lengthAdjust="spacingAndGlyphs">μ</text>
<text x="275.3" y="49.3" font-style="italic" font-size="9.8">p</text>
<text x="286.8" y="47.0" font-size="14.1">(</text>
<text x="291.6" y="47.0" textLength="10.6" lengthAdjust="spacingAndGlyphs">≈</text>
<text x="306.6" y="47.0" font-size="13.8">2.79</text>
<text x="330.0" y="47.0" font-style="italic" font-size="14" textLength="9.0" lengthAdjust="spacingAndGlyphs">μ</text>
<text x="339.6" y="49.3" font-style="italic" font-size="11.5">N</text>
<text x="350.2" y="47.0" font-size="14.1">)</text>
<text x="219.8" y="94.30" font-size="14.1" font-weight="bold" textLength="51.6" lengthAdjust="spacing">Electric</text>
<text x="279.0" y="94.30" font-size="14.1" font-weight="bold">(</text>
<text x="284.4" y="94.30" font-size="14.1" font-style="italic">G</text>
<text x="295.4" y="96.50" font-size="10.4" font-style="italic">E</text>
<text x="304.6" y="94.30" font-size="14.1" font-weight="bold">)</text>
<text x="219.8" y="179.35" font-size="14.1" font-weight="bold" textLength="63.0" lengthAdjust="spacing">Magnetic</text>
<text x="289.2" y="179.35" font-size="14.1" font-weight="bold">(</text>
<text x="295.2" y="179.35" font-size="14.1" font-style="italic">G</text>
<text x="306.0" y="181.55" font-size="11.0" font-style="italic">M</text>
<text x="318.4" y="179.35" font-size="14.1" font-weight="bold">)</text>
<path d="M170.4 102.35H206.9M170.4 98.35v8M206.9 98.35v8" stroke="#00d200" stroke-width="0.8" fill="none"/>
<circle cx="188.60" cy="102.35" r="2.2" fill="#00d200" stroke="#00d200" stroke-width="0.8"/>
<text x="219.3" y="106.45" font-size="14.1" textLength="73.2" lengthAdjust="spacing">Chen (1966)</text>
<path d="M170.4 187.40H206.9M170.4 183.40v8M206.9 183.40v8" stroke="#00d200" stroke-width="0.8" fill="none"/>
<circle cx="188.60" cy="187.40" r="2.2" fill="none" stroke="#00d200" stroke-width="0.8"/>
<text x="219.3" y="191.50" font-size="14.1" textLength="73.2" lengthAdjust="spacing">Chen (1966)</text>
<path d="M170.4 114.50H206.9M170.4 110.50v8M206.9 110.50v8" stroke="#ff0000" stroke-width="0.8" fill="none"/>
<rect x="186.65" y="112.55" width="3.9" height="3.9" fill="#ff0000" stroke="#ff0000" stroke-width="0.8"/>
<text x="219.3" y="118.60" font-size="14.1" textLength="93.5" lengthAdjust="spacing">Janssens (1966)</text>
<path d="M170.4 199.55H206.9M170.4 195.55v8M206.9 195.55v8" stroke="#ff0000" stroke-width="0.8" fill="none"/>
<rect x="186.45" y="197.40" width="4.3" height="4.3" fill="none" stroke="#ff0000" stroke-width="0.8"/>
<text x="219.3" y="203.65" font-size="14.1" textLength="93.5" lengthAdjust="spacing">Janssens (1966)</text>
<path d="M170.4 126.65H206.9M170.4 122.65v8M206.9 122.65v8" stroke="#1f6fb4" stroke-width="0.8" fill="none"/>
<polygon points="188.60,128.85 186.69,125.55 190.51,125.55" fill="#1f6fb4" stroke="#1f6fb4" stroke-width="0.8"/>
<text x="219.3" y="130.75" font-size="14.1" textLength="79.0" lengthAdjust="spacing">Bartel (1966)</text>
<path d="M170.4 211.70H206.9M170.4 207.70v8M206.9 207.70v8" stroke="#1f6fb4" stroke-width="0.8" fill="none"/>
<polygon points="188.60,213.90 186.69,210.60 190.51,210.60" fill="none" stroke="#1f6fb4" stroke-width="0.8"/>
<text x="219.3" y="215.80" font-size="14.1" textLength="79.0" lengthAdjust="spacing">Bartel (1966)</text>
<path d="M170.4 138.80H206.9M170.4 134.80v8M206.9 134.80v8" stroke="#ffbb1a" stroke-width="0.8" fill="none"/>
<polygon points="188.60,136.60 186.69,139.90 190.51,139.90" fill="#ffbb1a" stroke="#ffbb1a" stroke-width="0.8"/>
<text x="219.3" y="142.90" font-size="14.1" textLength="104.4" lengthAdjust="spacing">Borkowski (1975)</text>
<path d="M170.4 223.85H206.9M170.4 219.85v8M206.9 219.85v8" stroke="#ffbb1a" stroke-width="0.8" fill="none"/>
<polygon points="188.60,221.65 186.69,224.95 190.51,224.95" fill="none" stroke="#ffbb1a" stroke-width="0.8"/>
<text x="219.3" y="227.95" font-size="14.1" textLength="104.4" lengthAdjust="spacing">Borkowski (1975)</text>
<path d="M170.4 151.0H206.9" stroke="#aaaaaa" stroke-width="1.5" fill="none"/>
<path d="M170.4 236.00H206.9" stroke="#929292" stroke-width="1.15" stroke-dasharray="2.0 2.23" fill="none"/>
<text x="219.3" y="155.05" font-size="14.1" textLength="103.2" lengthAdjust="spacing">Standard Dipole:</text>
<text x="329.40" y="155.05">(1</text>
<text x="344.20" y="155.65" font-size="15.5">+</text>
<text x="362.30" y="150.45" font-size="10.2" font-style="italic">Q</text>
<text x="371.00" y="146.05" font-size="7.4">2</text>
<path d="M358.90 152.60h20.0" stroke="#000" stroke-width="0.6"/>
<text x="359.30" y="160.35" font-size="9.4" textLength="18.8" lengthAdjust="spacing">0.71</text>
<text x="380.60" y="155.05">)</text>
<text x="386.30" y="150.75" font-size="9.8" textLength="13.2" lengthAdjust="spacingAndGlyphs">−2</text>
<text x="219.3" y="240.10" font-size="14.1" textLength="103.2" lengthAdjust="spacing">Standard Dipole:</text>
<text x="329.4" y="240.10" font-style="italic" font-size="14" textLength="9.0" lengthAdjust="spacingAndGlyphs">μ</text>
<text x="337.0" y="242.40" font-style="italic" font-size="9.8">p</text>
<text x="346.3" y="240.80" font-size="16">×</text>
<text x="360.60" y="240.10">(1</text>
<text x="375.40" y="240.70" font-size="15.5">+</text>
<text x="393.50" y="235.50" font-size="10.2" font-style="italic">Q</text>
<text x="402.20" y="231.10" font-size="7.4">2</text>
<path d="M390.10 237.65h20.0" stroke="#000" stroke-width="0.6"/>
<text x="390.50" y="245.40" font-size="9.4" textLength="18.8" lengthAdjust="spacing">0.71</text>
<text x="411.80" y="240.10">)</text>
<text x="417.50" y="235.80" font-size="9.8" textLength="13.2" lengthAdjust="spacingAndGlyphs">−2</text>
</svg>
</body></html>
